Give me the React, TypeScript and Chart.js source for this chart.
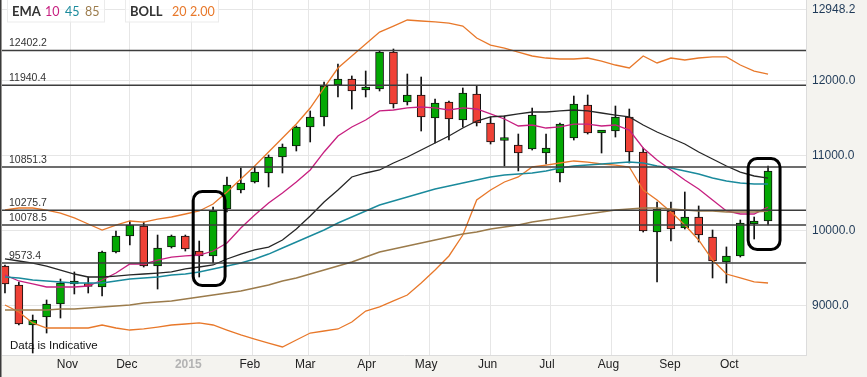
import React, { useEffect, useRef } from "react";
import { Chart, registerables } from "chart.js";

Chart.register(...registerables);

// ---- data ----
const weekDates = [
  "2014-09-29", "2014-10-06", "2014-10-13", "2014-10-20", "2014-10-27", "2014-11-03", "2014-11-10", "2014-11-17",
  "2014-11-24", "2014-12-01", "2014-12-08", "2014-12-15", "2014-12-22", "2014-12-29", "2015-01-05", "2015-01-12",
  "2015-01-19", "2015-01-26", "2015-02-02", "2015-02-09", "2015-02-16", "2015-02-23", "2015-03-02", "2015-03-09",
  "2015-03-16", "2015-03-23", "2015-03-30", "2015-04-06", "2015-04-13", "2015-04-20", "2015-04-27", "2015-05-04",
  "2015-05-11", "2015-05-18", "2015-05-25", "2015-06-01", "2015-06-08", "2015-06-15", "2015-06-22", "2015-06-29",
  "2015-07-06", "2015-07-13", "2015-07-20", "2015-07-27", "2015-08-03", "2015-08-10", "2015-08-17", "2015-08-24",
  "2015-08-31", "2015-09-07", "2015-09-14", "2015-09-21", "2015-09-28", "2015-10-05", "2015-10-12", "2015-10-19",
];

const openVals = [
  9533, 9280, 8747, 8853, 9027, 9293, 9273, 9253, 9719, 9932, 10065, 9533, 9786, 9932, 9732, 9666,
  10292, 10545, 10651, 10771, 10984, 11130, 11383, 11517, 11943, 12023, 11876, 11890, 12382, 11716, 11810, 11503,
  11716, 11477, 11823, 11437, 11204, 11144, 11090, 11037, 10771, 11237, 11676, 11304, 11330, 11517, 11051, 9985,
  10265, 10039, 10185, 9919, 9586, 9666, 10092, 10132,
];
const highVals = [
  9546, 9320, 8880, 9080, 9359, 9453, 9386, 9732, 9999, 10132, 10118, 9945, 9945, 9945, 9865, 10318,
  10718, 10838, 10851, 11011, 11157, 11397, 11597, 11983, 12222, 12063, 12129, 12395, 12422, 12089, 12049, 11756,
  11730, 11903, 11929, 11517, 11530, 11290, 11636, 11290, 11437, 11796, 11810, 11317, 11663, 11623, 11104, 10385,
  10385, 10518, 10332, 10012, 9786, 10145, 10185, 10864,
];
const lowVals = [
  9173, 8747, 8374, 8640, 8840, 9160, 9173, 9133, 9706, 9812, 9519, 9226, 9772, 9732, 9386, 9573,
  10252, 10505, 10638, 10585, 10771, 11064, 11184, 11397, 11783, 11623, 11783, 11863, 11636, 11676, 11330, 11170,
  11210, 11383, 11397, 11157, 10864, 10798, 11077, 10891, 10651, 11210, 11290, 11037, 11250, 10904, 9985, 9320,
  9865, 10025, 9852, 9373, 9306, 9652, 9892, 10079,
];
const closeVals = [
  9293, 8760, 8814, 9027, 9306, 9320, 9260, 9719, 9932, 10079, 9533, 9772, 9932, 9759, 9666, 10265,
  10611, 10638, 10784, 10984, 11117, 11383, 11517, 11929, 12023, 11863, 11883, 12382, 11690, 11810, 11517, 11703,
  11490, 11836, 11437, 11184, 11210, 11037, 11543, 11104, 11423, 11690, 11304, 11310, 11517, 11051, 9999, 10292,
  10025, 10185, 9945, 9599, 9666, 10105, 10118, 10798,
];

const ema10 = [
  9413, 9333, 9293, 9253, 9253, 9253, 9266, 9346, 9439, 9559, 9559, 9612, 9652, 9666, 9679, 9732,
  9839, 10039, 10212, 10372, 10505, 10651, 10811, 11051, 11264, 11384, 11477, 11597, 11610, 11637, 11650, 11637,
  11610, 11637, 11623, 11557, 11490, 11397, 11410, 11370, 11384, 11423, 11423, 11397, 11410, 11343, 11104, 10944,
  10811, 10678, 10558, 10411, 10265, 10225, 10225, 10318,
];
const ema45 = [
  9386, 9373, 9346, 9333, 9320, 9306, 9306, 9306, 9333, 9359, 9373, 9386, 9413, 9426, 9453, 9493,
  9533, 9572, 9626, 9692, 9772, 9852, 9932, 10012, 10105, 10185, 10265, 10345, 10398, 10451, 10505, 10558,
  10598, 10638, 10678, 10718, 10744, 10758, 10771, 10797, 10837, 10864, 10877, 10891, 10904, 10917, 10904, 10864,
  10837, 10797, 10758, 10704, 10664, 10638, 10624, 10624,
];
const ema85 = [
  8947, 8947, 8947, 8947, 8960, 8960, 8973, 8987, 9000, 9013, 9040, 9053, 9067, 9093, 9120, 9146,
  9173, 9200, 9240, 9280, 9333, 9373, 9426, 9479, 9533, 9586, 9652, 9719, 9759, 9799, 9839, 9879,
  9919, 9959, 9985, 10025, 10052, 10078, 10118, 10145, 10172, 10198, 10225, 10252, 10278, 10292, 10305, 10305,
  10292, 10278, 10265, 10265, 10252, 10252, 10252, 10265,
];
const bollUpper = [
  10278, 10305, 10305, 10278, 10238, 10172, 10092, 10012, 10078, 10132, 10118, 10158, 10185, 10225, 10265, 10358,
  10518, 10691, 10864, 11051, 11237, 11423, 11636, 11903, 12169, 12329, 12489, 12648, 12728, 12808, 12795, 12782,
  12768, 12728, 12569, 12475, 12435, 12382, 12329, 12302, 12289, 12289, 12302, 12262, 12209, 12169, 12329, 12236,
  12302, 12276, 12302, 12316, 12316, 12209, 12129, 12089,
];
const bollMid = [
  9626, 9599, 9572, 9532, 9479, 9426, 9386, 9386, 9399, 9413, 9426, 9439, 9453, 9493, 9519, 9546,
  9626, 9692, 9746, 9785, 9879, 10025, 10198, 10385, 10545, 10718, 10771, 10811, 10904, 10984, 11077, 11170,
  11264, 11370, 11463, 11517, 11530, 11557, 11583, 11583, 11597, 11610, 11597, 11570, 11543, 11517, 11410, 11317,
  11237, 11157, 11051, 10957, 10864, 10784, 10731, 10704,
];
const bollLower = [
  9013, 8920, 8774, 8707, 8707, 8707, 8707, 8747, 8707, 8680, 8694, 8720, 8747, 8760, 8774, 8747,
  8680, 8614, 8560, 8507, 8454, 8547, 8640, 8667, 8694, 8787, 8933, 8987, 9067, 9146, 9306, 9479,
  9666, 9945, 10411, 10545, 10651, 10718, 10851, 10877, 10904, 10931, 10917, 10891, 10877, 10851, 10545, 10411,
  10252, 10078, 9879, 9612, 9426, 9373, 9320, 9306,
];

const levels = [12402.2, 11940.4, 10851.3, 10275.7, 10078.5, 9573.4];
const yTickValues = [9000, 10000, 11000, 12000, 12948.2];
const monthTickDates = [
  "2014-11-01", "2014-12-01", "2015-01-01", "2015-02-01", "2015-03-01", "2015-04-01",
  "2015-05-01", "2015-06-01", "2015-07-01", "2015-08-01", "2015-09-01", "2015-10-01",
];
const monthTickLabels = ["Nov", "Dec", "2015", "Feb", "Mar", "Apr", "May", "Jun", "Jul", "Aug", "Sep", "Oct"];

const highlights = [
  { fromDate: "2015-01-05", toDate: "2015-01-12", high: 10525, low: 9273 },
  { fromDate: "2015-10-12", toDate: "2015-10-19", high: 10964, low: 9752 },
];

// ---- helpers ----
const toDay = (s: string) => {
  const [y, m, d] = s.split("-").map(Number);
  return (Date.UTC(y, m - 1, d) - Date.UTC(2014, 10, 1)) / 86400000;
};

const GREEN = "#03a803";
const RED = "#ef4136";
const AXIS_FONT = '"Liberation Sans", Arial, sans-serif';
const LEGEND_FONT = 'Lato, "Open Sans", sans-serif';

const overlayPlugin = {
  id: "overlay",
  beforeDraw(chart: any) {
    const { ctx, chartArea: a, width, height } = chart;
    ctx.save();
    ctx.fillStyle = "#f4f3ef";
    ctx.fillRect(0, 0, width, height);
    ctx.fillStyle = "#ffffff";
    ctx.fillRect(a.left, a.top, a.right - a.left, a.bottom - a.top);
    ctx.restore();
  },
  afterDatasetsDraw(chart: any) {
    const { ctx, chartArea: a, scales } = chart;
    const xs = scales.x;
    const ys = scales.y;
    ctx.save();
    // support / resistance levels
    ctx.strokeStyle = "#3d3d3d";
    ctx.lineWidth = 1.5;
    ctx.fillStyle = "#333";
    ctx.font = `10.5px ${AXIS_FONT}`;
    ctx.textBaseline = "alphabetic";
    levels.forEach((v) => {
      const py = ys.getPixelForValue(v);
      ctx.beginPath();
      ctx.moveTo(a.left, py);
      ctx.lineTo(a.right, py);
      ctx.stroke();
      ctx.fillText(v.toFixed(1), a.left + 7, py - 4);
    });
    // highlight boxes
    ctx.strokeStyle = "#000";
    ctx.lineWidth = 3;
    highlights.forEach((h) => {
      const l = xs.getPixelForValue(toDay(h.fromDate)) - 6;
      const r = xs.getPixelForValue(toDay(h.toDate)) + 12;
      const t = ys.getPixelForValue(h.high);
      const b = ys.getPixelForValue(h.low);
      ctx.beginPath();
      (ctx as any).roundRect(l, t, r - l, b - t, 9);
      ctx.stroke();
    });
    // legend boxes
    ctx.lineWidth = 1;
    ctx.strokeStyle = "#ebebeb";
    ctx.fillStyle = "rgba(255,255,255,0.7)";
    ctx.fillRect(7.5, -1, 97, 23);
    ctx.strokeRect(7.5, -1, 97, 23);
    ctx.fillRect(125.5, -1, 93, 23);
    ctx.strokeRect(125.5, -1, 93, 23);
    ctx.font = `bold 13px ${LEGEND_FONT}`;
    ctx.fillStyle = "#333";
    ctx.fillText("EMA", 12, 15.5);
    ctx.fillText("BOLL", 130, 15.5);
    ctx.font = `12.5px ${LEGEND_FONT}`;
    ctx.fillStyle = "#c71f80";
    ctx.fillText("10", 45, 15.5);
    ctx.fillStyle = "#1a8a9c";
    ctx.fillText("45", 65, 15.5);
    ctx.fillStyle = "#9b7b4b";
    ctx.fillText("85", 85, 15.5);
    ctx.fillStyle = "#e8782a";
    ctx.fillText("20", 172, 15.5);
    ctx.fillText("2.00", 190, 15.5);
    // note
    ctx.font = `11.5px ${AXIS_FONT}`;
    ctx.fillStyle = "#111";
    ctx.fillText("Data is Indicative", 10, 349);
    ctx.restore();
  },
  afterDraw(chart: any) {
    const { ctx, height } = chart;
    ctx.save();
    ctx.fillStyle = "#3a3a3a";
    ctx.fillRect(0, 0, 1.5, height);
    ctx.restore();
  },
};

export default function App() {
  const ref = useRef<HTMLCanvasElement>(null);

  useEffect(() => {
    document.body.style.margin = "0";
    const xs = weekDates.map(toDay);
    const lineDs = (label: string, vals: number[], color: string, width = 1.3) => ({
      type: "line" as const,
      label,
      data: xs.map((x, i) => ({ x, y: vals[i] })),
      borderColor: color,
      borderWidth: width,
      pointRadius: 0,
      tension: 0,
      fill: false,
      order: 1,
    });

    const chart = new Chart(ref.current as HTMLCanvasElement, {
      type: "bar",
      data: {
        datasets: [
          {
            type: "bar",
            label: "wick",
            data: xs.map((x, i) => ({ x, y: [lowVals[i], highVals[i]] })) as any,
            backgroundColor: "#111",
            barThickness: 1,
            grouped: false,
            order: 3,
          } as any,
          {
            type: "bar",
            label: "body",
            data: xs.map((x, i) => ({ x, y: [openVals[i], closeVals[i]] })) as any,
            backgroundColor: openVals.map((o, i) => (closeVals[i] >= o ? GREEN : RED)),
            borderColor: "#111",
            borderWidth: 1,
            borderSkipped: false,
            barThickness: 8,
            minBarLength: 3,
            grouped: false,
            order: 2,
          } as any,
          lineDs("EMA85", ema85, "#9b7b4b", 1.6),
          lineDs("EMA45", ema45, "#1a8a9c", 1.4),
          lineDs("BOLL mid", bollMid, "#262626", 1.3),
          lineDs("BOLL upper", bollUpper, "#e8782a", 1.3),
          lineDs("BOLL lower", bollLower, "#e8782a", 1.3),
          lineDs("EMA10", ema10, "#c71f80", 1.3),
        ] as any,
      },
      options: {
        responsive: false,
        animation: false,
        devicePixelRatio: 1,
        layout: { padding: { left: 2, top: 0, right: 0, bottom: 0 } },
        plugins: { legend: { display: false }, tooltip: { enabled: false } },
        scales: {
          x: {
            type: "linear",
            offset: false,
            min: -34.5,
            max: 371.15,
            grid: { color: "#e6e6e6", drawTicks: false, lineWidth: 1, offset: false },
            border: { display: true, color: "#dcdcdc" },
            ticks: {
              autoSkip: false,
              maxRotation: 0,
              padding: 2,
              labelOffset: -3,
              font: (c: any) => ({ family: AXIS_FONT, size: 12, weight: c.index === 2 ? "bold" : "normal" }),
              color: (c: any) => (c.index === 2 ? "#b3b3b3" : "#222"),
              callback: (_v: any, i: number) => monthTickLabels[i] ?? "",
            },
            afterBuildTicks: (s: any) => {
              s.ticks = monthTickDates.map((d) => ({ value: toDay(d) }));
            },
            afterFit: (s: any) => {
              s.height = 22;
              s.paddingLeft = 0;
              s.paddingRight = 0;
            },
          },
          y: {
            type: "linear",
            position: "right",
            min: 8347.4,
            max: 13074.6,
            grid: { color: "#e6e6e6", drawTicks: false, lineWidth: 1 },
            border: { display: true, color: "#dcdcdc" },
            ticks: {
              padding: 6,
              font: { family: AXIS_FONT, size: 12 },
              color: "#1f3a58",
              callback: (v: any) => Number(v).toFixed(1),
            },
            afterBuildTicks: (s: any) => {
              s.ticks = yTickValues.map((v) => ({ value: v }));
            },
            afterFit: (s: any) => {
              s.width = 61;
              s.paddingTop = 0;
              s.paddingBottom = 0;
            },
          },
        },
      } as any,
      plugins: [overlayPlugin],
    });
    return () => chart.destroy();
  }, []);

  return (
    <canvas
      ref={ref}
      width={867}
      height={377}
      style={{ display: "block", width: 867, height: 377 }}
    />
  );
}
